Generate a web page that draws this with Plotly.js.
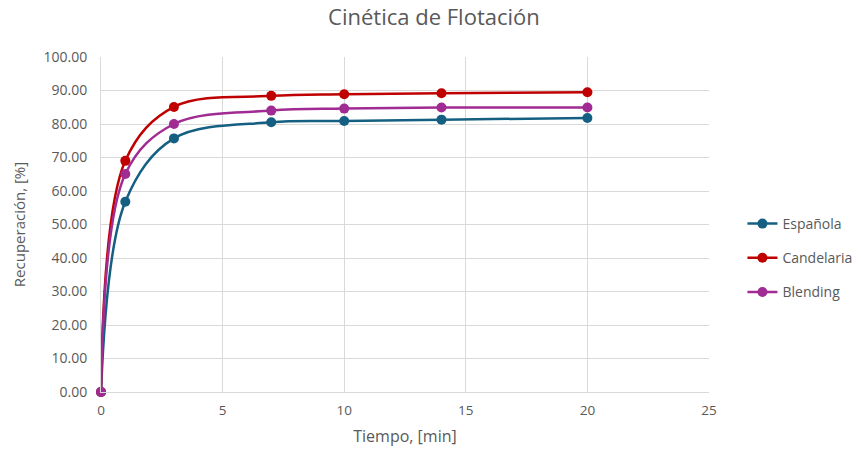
<!DOCTYPE html>
<html><head><meta charset="utf-8">
<script src="https://cdn.plot.ly/plotly-3.0.1.min.js"></script>
<style>html,body{margin:0;padding:0;background:#fff}</style>
</head><body>
<div id="chart" style="width:861px;height:454px"></div>
<script>
const tiempo = [0, 1, 3, 7, 10, 14, 20];
const espanola = [0, 56.8, 75.7, 80.5, 80.9, 81.3, 81.8];
const candelaria = [0, 69.0, 85.1, 88.4, 88.9, 89.2, 89.5];
const blending = [0, 65.1, 80.0, 84.0, 84.6, 84.9, 84.9];
const seriesNames = ['Española', 'Candelaria', 'Blending'];
const colors = ['#156082', '#C00000', '#A02B93'];
const values = [espanola, candelaria, blending];

const font = "'Open Sans', 'Noto Sans', sans-serif";
const traces = values.map((v, i) => ({
  x: tiempo, y: v, name: seriesNames[i], type: 'scatter', mode: 'lines+markers',
  line: {color: colors[i], width: 2.5, shape: 'spline', smoothing: 1},
  marker: {color: colors[i], size: 10},
  cliponaxis: false,
  legendgroup: 'g' + i
}));

const layout = {
  width: 861, height: 454,
  margin: {l: 101, r: 152, t: 57, b: 62, autoexpand: false},
  paper_bgcolor: '#fff', plot_bgcolor: '#fff',
  font: {family: font, color: '#595959', size: 13},
  title: {text: 'Cinética de Flotación', x: 0.504, xref: 'container', xanchor: 'center', yref: 'container', y: 0.978, yanchor: 'top',
          font: {size: 22, color: '#595959', family: font}},
  xaxis: {range: [0, 25], dtick: 5, tick0: 0, showgrid: true, gridcolor: '#d9d9d9', gridwidth: 1,
          zeroline: false, showline: true, linecolor: '#d9d9d9', linewidth: 1, ticks: '',
          ticklabelstandoff: 6,
          tickfont: {size: 13.5, color: '#595959'},
          title: {text: 'Tiempo, [min]', font: {size: 16, color: '#595959'}, standoff: 12}},
  yaxis: {range: [0, 100], dtick: 10, tick0: 0, tickformat: '.2f', showgrid: true, gridcolor: '#d9d9d9', gridwidth: 1,
          zeroline: false, showline: true, linecolor: '#d9d9d9', linewidth: 1, ticks: '',
          ticklabelstandoff: 10,
          tickfont: {size: 14, color: '#595959'},
          title: {text: 'Recuperación, [%]', font: {size: 15, color: '#595959'}, standoff: 14}},
  legend: {x: 1.055, xanchor: 'left', y: 0.40, yanchor: 'middle', traceorder: 'grouped', tracegroupgap: 13,
           font: {size: 14, color: '#595959'}, bgcolor: 'rgba(0,0,0,0)'},
  showlegend: true
};
Plotly.newPlot('chart', traces, layout, {displayModeBar: false, staticPlot: true});
</script>
</body></html>
